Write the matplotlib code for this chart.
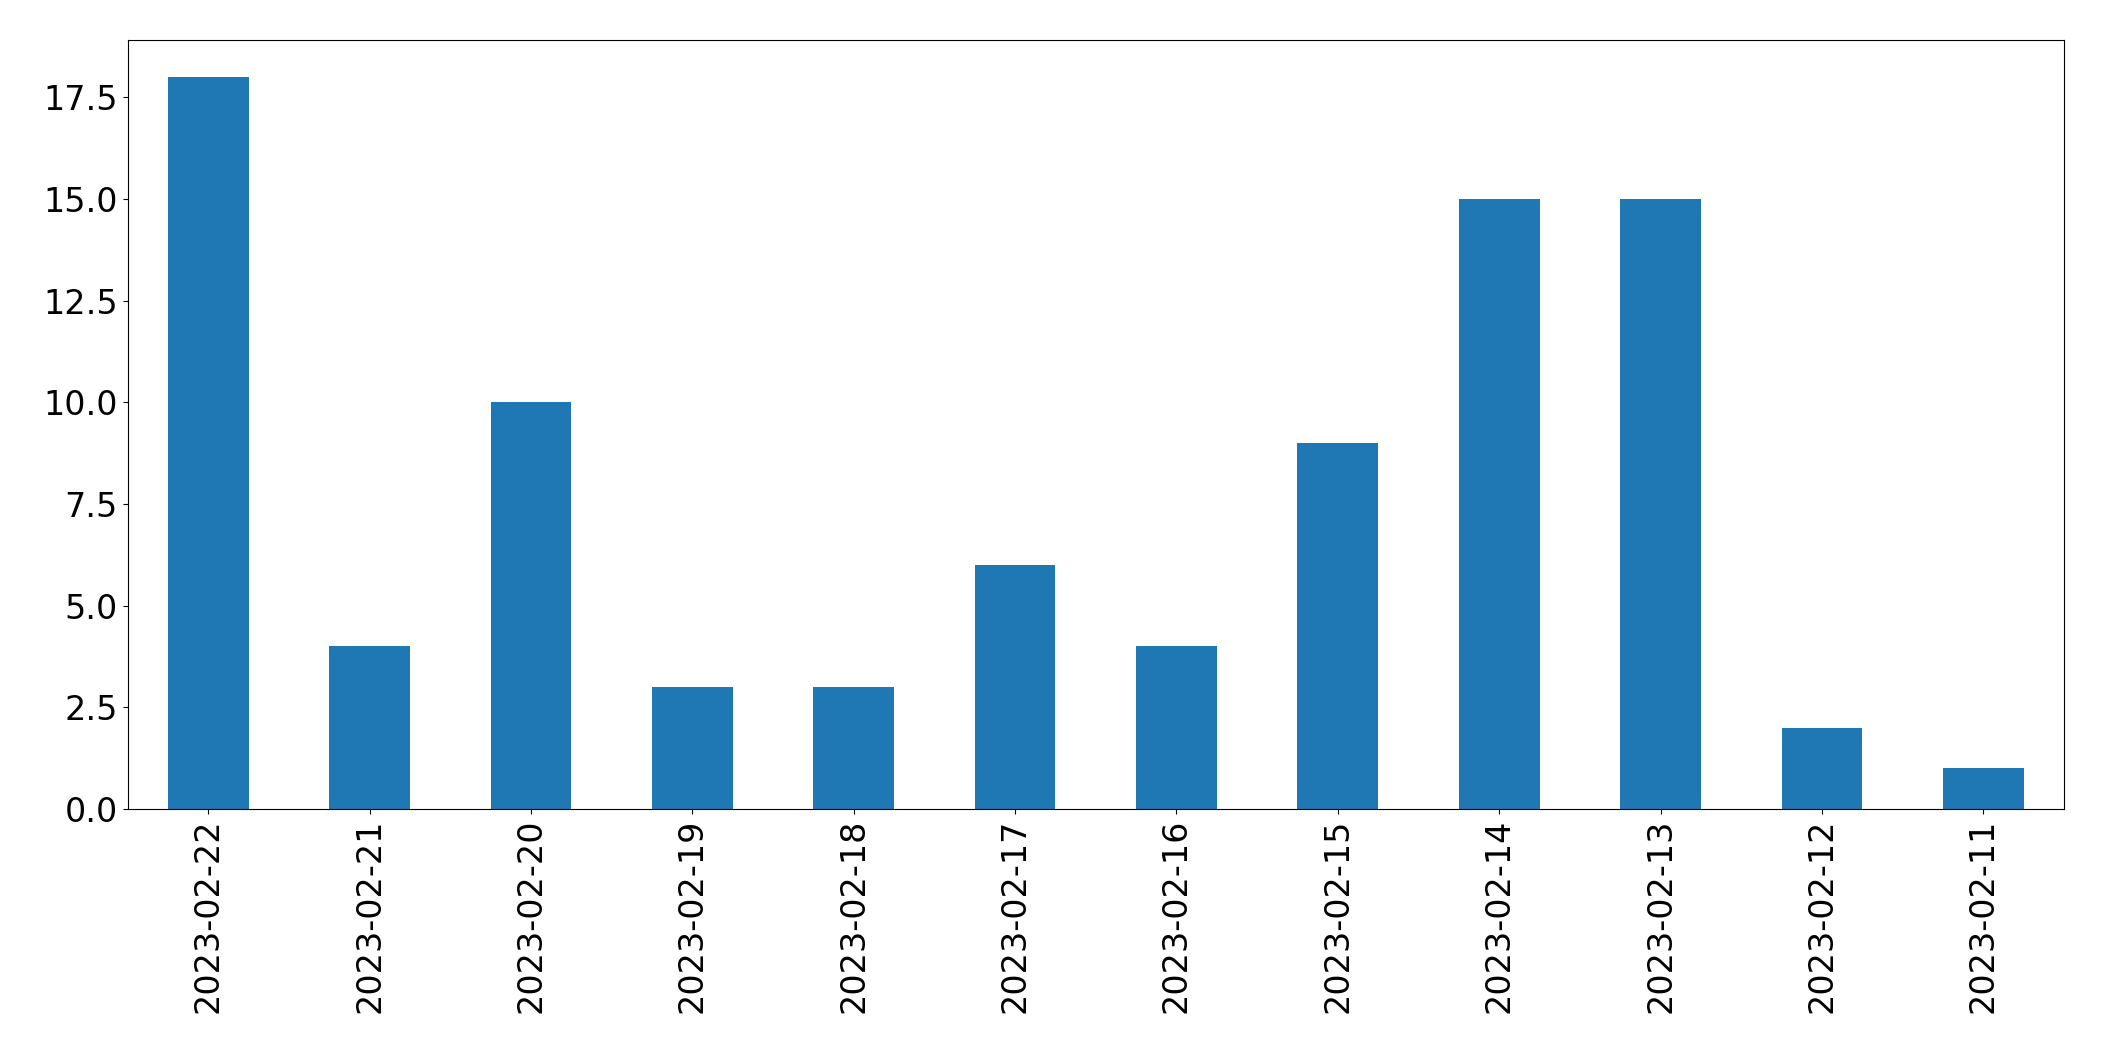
import matplotlib
matplotlib.use("Agg")
import matplotlib.pyplot as plt

dates = ["2023-02-22","2023-02-21","2023-02-20","2023-02-19","2023-02-18","2023-02-17",
         "2023-02-16","2023-02-15","2023-02-14","2023-02-13","2023-02-12","2023-02-11"]
counts = [18, 4, 10, 3, 3, 6, 4, 9, 15, 15, 2, 1]

fig = plt.figure(figsize=(21.04, 10.61), dpi=100)
ax = fig.add_axes([0.0606, 0.2375, 0.9204, 0.7245])
x = range(len(dates))
ax.bar(x, counts, width=0.5, color="#1f77b4")
ax.set_xlim(-0.5, len(dates) - 0.5)
ax.set_xticks(list(x))
ax.set_xticklabels(dates, rotation=90)
ax.tick_params(labelsize=24)
ax.set_ylim(0, 18.9)
fig.savefig("out.png", dpi=100)
